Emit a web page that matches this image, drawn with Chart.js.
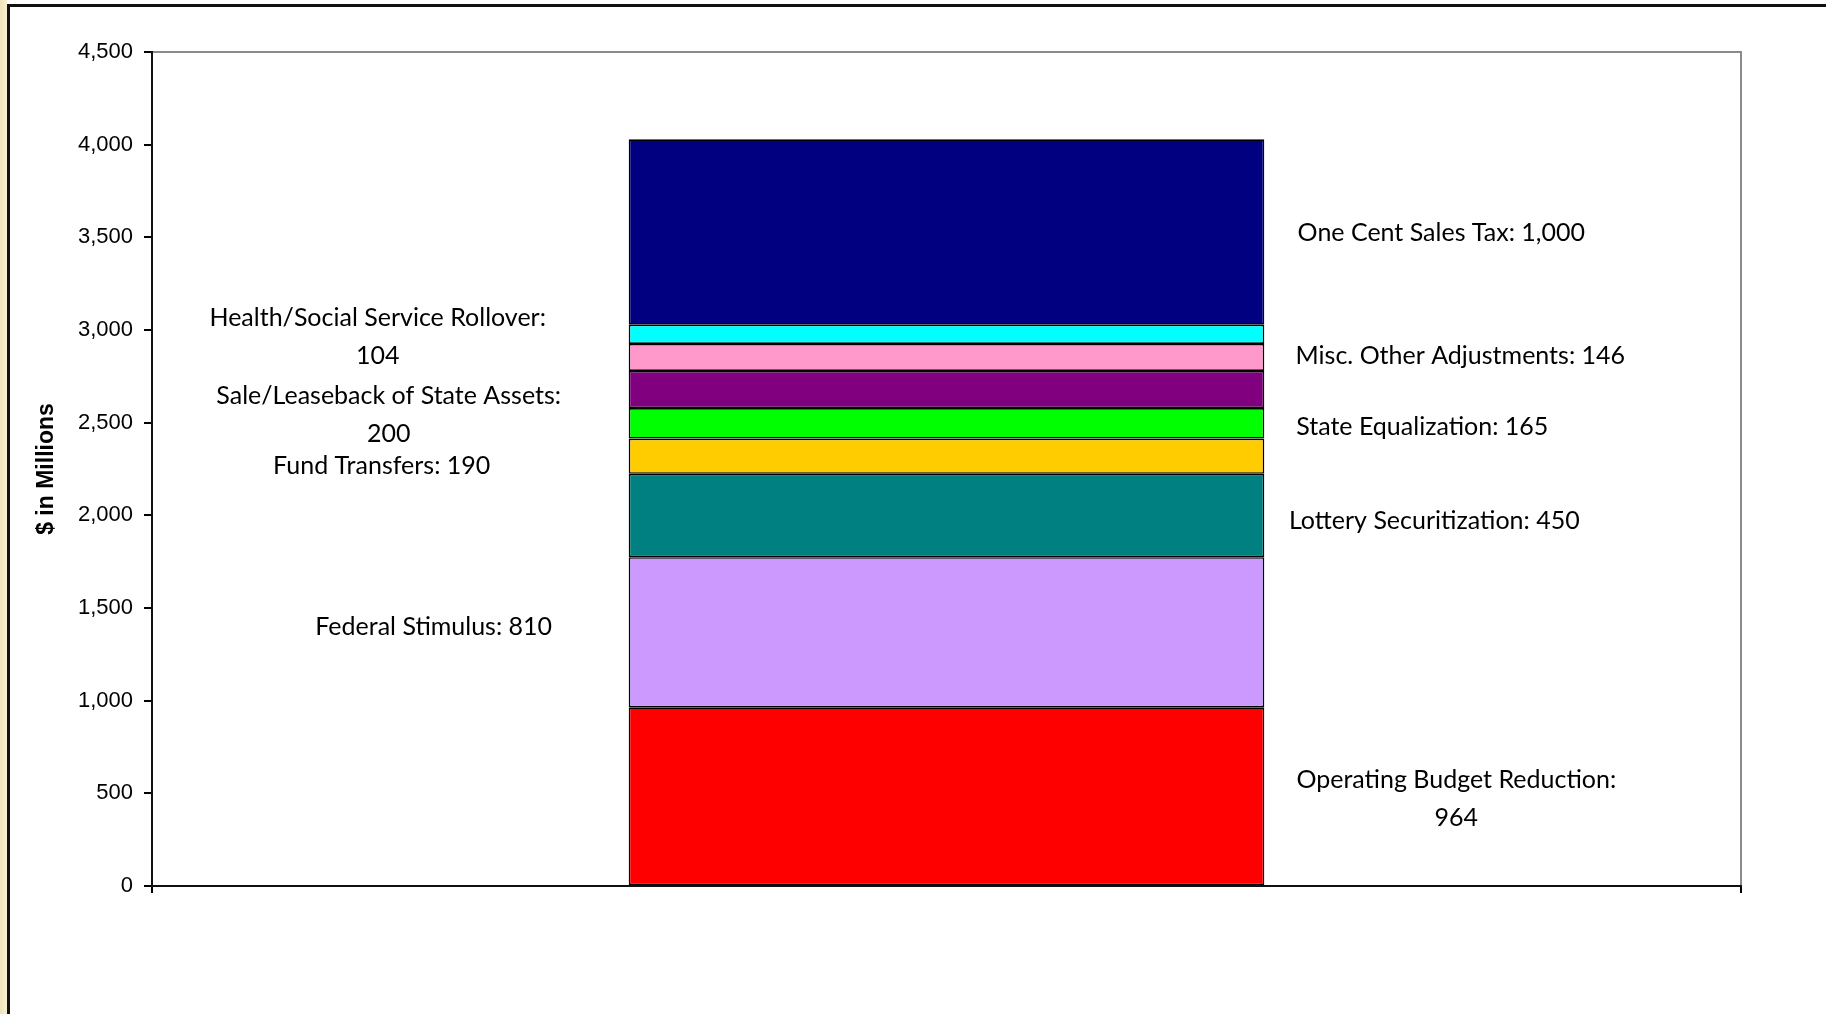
<!DOCTYPE html>
<html>
<head>
<meta charset="utf-8">
<script src="https://cdn.jsdelivr.net/npm/chart.js@4.4.1/dist/chart.umd.min.js"></script>
<style>
    html, body { margin: 0; padding: 0; background: #ffffff; }
    body { width: 1826px; height: 1014px; position: relative; overflow: hidden; }
    #strip { position: absolute; left: 0; top: 0; width: 7px; height: 1014px;
             background: linear-gradient(90deg, #efe2b8, #f8f0d4); }
    #frame { position: absolute; left: 7px; top: 4px; right: 0; bottom: -10px;
             background: #ffffff; border-top: 3px solid #111; border-left: 3px solid #111; }
    #wrap { position: absolute; left: 0; top: 0; width: 1826px; height: 1014px; }
</style>
</head>
<body>
<div id="strip"></div>
<div id="frame"></div>
<div id="wrap"><canvas id="budgetChart"></canvas></div>
<script>
// --- Datos ---
const categories = [''];
const segmentNames = [
    'Operating Budget Reduction',
    'Federal Stimulus',
    'Lottery Securitization',
    'Fund Transfers',
    'State Equalization',
    'Sale/Leaseback of State Assets',
    'Misc. Other Adjustments',
    'Health/Social Service Rollover',
    'One Cent Sales Tax'
];
const segmentValues = [964, 810, 450, 190, 165, 200, 146, 104, 1000];
const yTicks = [0, 500, 1000, 1500, 2000, 2500, 3000, 3500, 4000, 4500];

// --- Estilos ---
const segmentColors = ['#ff0000', '#cc99ff', '#008080', '#ffcc00', '#00ff00',
                       '#800080', '#ff99cc', '#00ffff', '#000080'];

// label layout: lado, desplazamiento desde el borde de la barra, ajuste vertical, lineas
const labelLayout = [
    { side: 'right', dx: 192, dy: 3,  lines: ['Operating Budget Reduction:', '964'] },
    { side: 'left',  dx: 195, dy: -5, lines: ['Federal Stimulus: 810'] },
    { side: 'right', dx: 170, dy: 5,  lines: ['Lottery Securitization: 450'] },
    { side: 'left',  dx: 247, dy: 10, lines: ['Fund Transfers: 190'] },
    { side: 'right', dx: 158, dy: 4,  lines: ['State Equalization: 165'] },
    { side: 'left',  dx: 240, dy: 25, lines: ['Sale/Leaseback of State Assets:', '200'] },
    { side: 'right', dx: 196, dy: -1, lines: ['Misc. Other Adjustments: 146'] },
    { side: 'left',  dx: 251, dy: 3,  lines: ['Health/Social Service Rollover:', '104'] },
    { side: 'right', dx: 177, dy: 1,  lines: ['One Cent Sales Tax: 1,000'] }
];

const datasets = segmentNames.map((name, i) => ({
    label: name,
    data: [segmentValues[i]],
    backgroundColor: segmentColors[i],
    borderColor: '#000000',
    borderWidth: 1.6,
    borderSkipped: false,
    stack: 'budget'
}));

// marco gris superior/derecho del area del grafico
const plotFrame = {
    id: 'plotFrame',
    beforeDraw(chart) {
        const { ctx, chartArea: a } = chart;
        ctx.save();
        ctx.strokeStyle = '#8a8a8a';
        ctx.lineWidth = 2;
        ctx.beginPath();
        ctx.moveTo(a.left, a.top);
        ctx.lineTo(a.right, a.top);
        ctx.lineTo(a.right, a.bottom);
        ctx.stroke();
        ctx.restore();
    }
};

// etiquetas de cada segmento
const segmentLabels = {
    id: 'segmentLabels',
    afterDatasetsDraw(chart) {
        const { ctx } = chart;
        ctx.save();
        ctx.font = '25px Lato';
        ctx.fillStyle = '#000000';
        ctx.textAlign = 'center';
        ctx.textBaseline = 'middle';
        labelLayout.forEach((lab, i) => {
            const bar = chart.getDatasetMeta(i).data[0];
            const half = bar.width / 2;
            const cx = lab.side === 'right' ? bar.x + half + lab.dx : bar.x - half - lab.dx;
            const cy = (bar.y + bar.base) / 2 + lab.dy;
            const lh = 38;
            const y0 = cy - (lab.lines.length - 1) * lh / 2;
            lab.lines.forEach((t, k) => ctx.fillText(t, cx, y0 + k * lh));
        });
        ctx.restore();
    }
};

const canvas = document.getElementById('budgetChart');
const budgetChart = new Chart(canvas, {
    type: 'bar',
    data: { labels: categories, datasets },
    options: {
        responsive: true,
        maintainAspectRatio: false,
        animation: false,
        layout: { padding: { left: 0, top: 52, right: 85, bottom: 118 } },
        datasets: { bar: { barPercentage: 0.4, categoryPercentage: 1.0 } },
        plugins: {
            legend: { display: false },
            tooltip: { enabled: false }
        },
        scales: {
            x: {
                stacked: true,
                offset: true,
                ticks: { display: false },
                grid: { display: true, offset: true, drawOnChartArea: false, drawTicks: true,
                        tickLength: 7, color: '#000000', lineWidth: 2 },
                border: { display: true, color: '#111111', width: 2 },
                afterFit: (scale) => { scale.height = 10; }
            },
            y: {
                stacked: true,
                min: 0,
                max: 4500,
                afterBuildTicks: (scale) => { scale.ticks = yTicks.map(v => ({ value: v })); },
                ticks: {
                    padding: 11,
                    color: '#000000',
                    font: { family: '"Liberation Sans", Arial, sans-serif', size: 22 },
                    callback: (v) => v.toLocaleString('en-US')
                },
                grid: { display: true, drawOnChartArea: false, drawTicks: true,
                        tickLength: 8, color: '#000000', lineWidth: 2 },
                border: { display: true, color: '#111111', width: 2 },
                title: {
                    display: true,
                    text: '$ in Millions',
                    color: '#000000',
                    padding: { top: 33, bottom: 0 },
                    font: { family: '"Liberation Sans", Arial, sans-serif', size: 23, weight: 'bold' }
                },
                afterFit: (scale) => { scale.width = 152; }
            }
        }
    },
    plugins: [plotFrame, segmentLabels]
});
</script>
</body>
</html>
